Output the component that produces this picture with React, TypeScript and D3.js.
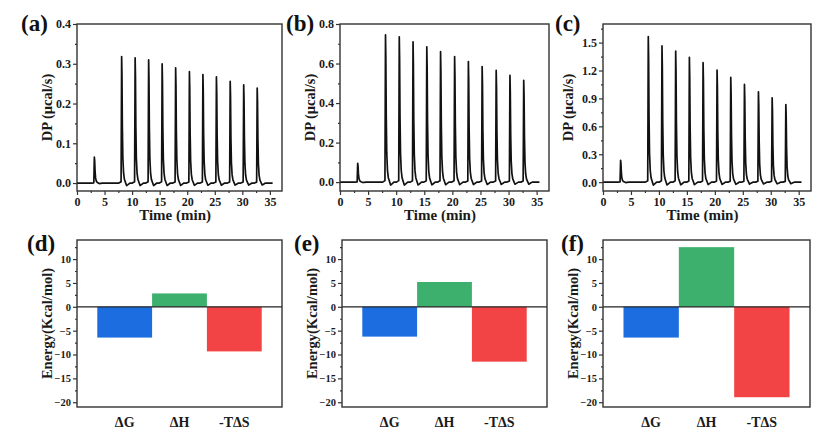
import React, { useEffect, useRef } from "react";
import * as d3 from "d3";

// injection peak times (min), shared by the three ITC traces
const injectionTimes = [3.15, 8.1, 10.55, 13.0, 15.45, 17.9, 20.4, 22.85, 25.3, 27.8, 30.25, 32.7];
const peaksA = [0.065, 0.318, 0.315, 0.31, 0.3, 0.29, 0.28, 0.273, 0.267, 0.256, 0.247, 0.239];
const peaksB = [0.095, 0.745, 0.735, 0.71, 0.685, 0.66, 0.635, 0.61, 0.585, 0.565, 0.54, 0.515];
const peaksC = [0.234, 1.565, 1.464, 1.41, 1.342, 1.284, 1.205, 1.126, 1.05, 0.971, 0.906, 0.835];
// shape of one injection spike: [minutes from peak, fraction of peak height]
const peakProfile: [number, number][] = [
  [-0.5, 0], [-0.1, 0.01], [-0.04, 0.6], [0, 1], [0.06, 0.85], [0.13, 0.45],
  [0.22, 0.2], [0.35, 0.08], [0.5, 0.03], [0.7, 0.005], [0.9, -0.02],
  [1.15, -0.012], [1.5, 0],
];
const traceEnd = 35.5;

const categories = ["ΔG", "ΔH", "-TΔS"];
const energyD = [-6.45, 2.8, -9.35];
const energyE = [-6.25, 5.2, -11.5];
const energyF = [-6.45, 12.5, -18.95];
const barColors = ["#1c6ee0", "#3cb06c", "#f24444"];

const energyTicks = [-20, -15, -10, -5, 0, 5, 10];

const FONT = "'Liberation Serif', 'Times New Roman', serif";
const INK = "#1a1a1a";

const App = () => {
  const svgRef = useRef<SVGSVGElement>(null);
  const svgWidth = 832;
  const svgHeight = 434;

  useEffect(() => {
    const svg = d3.select(svgRef.current);
    svg.selectAll("*").remove();

    const TOP = { y0: 24, y1: 191 };
    const BOT = { y0: 240, y1: 407 };

    const topPanels = [
      { label: "(a)", lx: 21, left: 77, right: 282, peaks: peaksA, dom: [-0.02, 0.4], step: 0.1, titleX: 47 },
      { label: "(b)", lx: 286, left: 340, right: 549, peaks: peaksB, dom: [-0.045, 0.8], step: 0.2, titleX: 310 },
      { label: "(c)", lx: 555, left: 603, right: 811, peaks: peaksC, dom: [-0.095, 1.7], step: 0.3, titleX: 568 },
    ];

    topPanels.forEach((p) => {
      const g = svg.append("g");
      const x = d3.scaleLinear().domain([0, 37.2]).range([p.left, p.right]);
      const y = d3.scaleLinear().domain(p.dom).range([TOP.y1, TOP.y0]);

      // trace
      const pts: [number, number][] = [[0, 0]];
      injectionTimes.forEach((t, i) => {
        peakProfile.forEach(([dt, f]) => pts.push([t + dt, f * p.peaks[i]]));
      });
      pts.push([traceEnd, 0]);
      g.append("path")
        .attr("d", d3.line().x((d) => x(d[0])).y((d) => y(d[1]))(pts))
        .attr("fill", "none")
        .attr("stroke", "#111")
        .attr("stroke-width", 1.7)
        .attr("stroke-linejoin", "round");

      // frame
      g.append("rect")
        .attr("x", p.left).attr("y", TOP.y0)
        .attr("width", p.right - p.left).attr("height", TOP.y1 - TOP.y0)
        .attr("fill", "none").attr("stroke", "#333").attr("stroke-width", 1.4);

      const yMajor = d3.range(0, p.dom[1] + 1e-9, p.step);
      const yMinor = d3.range(p.step / 2, p.dom[1], p.step);
      const xMajor = d3.range(0, 36, 5);
      const xMinor = d3.range(2.5, 37, 5);

      const yAxis = g.append("g")
        .attr("transform", `translate(${p.left},0)`)
        .call(d3.axisLeft(y).tickValues(yMajor).tickFormat(d3.format(".1f")).tickSize(4).tickPadding(2));
      yAxis.append("g").call(d3.axisLeft(y).tickValues(yMinor).tickFormat(() => "").tickSize(2));
      const xAxis = g.append("g")
        .attr("transform", `translate(0,${TOP.y1})`)
        .call(d3.axisBottom(x).tickValues(xMajor).tickFormat(d3.format("d")).tickSize(4).tickPadding(2));
      xAxis.append("g").call(d3.axisBottom(x).tickValues(xMinor).tickFormat(() => "").tickSize(2));
      [yAxis, xAxis].forEach((a) => {
        a.selectAll(".domain").remove();
        a.selectAll("line").attr("stroke", "#333").attr("stroke-width", 1.2);
        a.selectAll("text")
          .attr("font-family", FONT).attr("font-weight", "bold")
          .attr("font-size", 12).attr("fill", INK);
      });

      g.append("text")
        .attr("x", x(17.8)).attr("y", 220)
        .attr("text-anchor", "middle")
        .attr("font-family", FONT).attr("font-weight", "bold")
        .attr("font-size", 15).attr("fill", INK)
        .text("Time (min)");
      g.append("text")
        .attr("transform", `translate(${p.titleX},${(TOP.y0 + TOP.y1) / 2}) rotate(-90)`)
        .attr("text-anchor", "middle").attr("dy", "0.35em")
        .attr("font-family", FONT).attr("font-weight", "bold")
        .attr("font-size", 14.5).attr("fill", INK)
        .text("DP (μcal/s)");
      g.append("text")
        .attr("x", p.lx).attr("y", 31)
        .attr("font-family", FONT).attr("font-weight", "bold")
        .attr("font-size", 23).attr("fill", "#111")
        .text(p.label);
    });

    const botPanels = [
      { label: "(d)", lx: 27, left: 77, right: 282, values: energyD, titleX: 47 },
      { label: "(e)", lx: 294, left: 342, right: 547, values: energyE, titleX: 312 },
      { label: "(f)", lx: 561, left: 603, right: 810, values: energyF, titleX: 573 },
    ];

    botPanels.forEach((p) => {
      const g = svg.append("g");
      const x = d3.scaleBand().domain(categories).range([p.left, p.right]).paddingInner(0).paddingOuter(0.37);
      const y = d3.scaleLinear().domain([-21, 14]).range([BOT.y1, BOT.y0]);

      g.selectAll("rect.bar")
        .data(p.values)
        .enter()
        .append("rect")
        .attr("class", "bar")
        .attr("x", (_, i) => x(categories[i])!)
        .attr("width", x.bandwidth())
        .attr("y", (d) => y(Math.max(0, d)))
        .attr("height", (d) => Math.abs(y(d) - y(0)))
        .attr("fill", (_, i) => barColors[i]);

      g.append("line")
        .attr("x1", p.left).attr("x2", p.right)
        .attr("y1", y(0)).attr("y2", y(0))
        .attr("stroke", "#222").attr("stroke-width", 1.2);

      g.append("rect")
        .attr("x", p.left).attr("y", BOT.y0)
        .attr("width", p.right - p.left).attr("height", BOT.y1 - BOT.y0)
        .attr("fill", "none").attr("stroke", "#333").attr("stroke-width", 1.4);

      const yAxis = g.append("g")
        .attr("transform", `translate(${p.left},0)`)
        .call(d3.axisLeft(y).tickValues(energyTicks).tickFormat(d3.format("d")).tickSize(4).tickPadding(2));
      yAxis.append("g").call(
        d3.axisLeft(y).tickValues(d3.range(-17.5, 13, 5)).tickFormat(() => "").tickSize(2)
      );
      yAxis.selectAll(".domain").remove();
      yAxis.selectAll("line").attr("stroke", "#333").attr("stroke-width", 1.2);
      yAxis.selectAll("text")
        .attr("font-family", FONT).attr("font-weight", "bold")
        .attr("font-size", 10.5).attr("fill", INK);

      const xAxis = g.append("g")
        .attr("transform", `translate(0,${BOT.y1})`)
        .call(d3.axisBottom(x).tickSize(0).tickPadding(10));
      xAxis.selectAll(".domain").remove();
      xAxis.selectAll("text")
        .attr("font-family", FONT).attr("font-weight", "bold")
        .attr("font-size", 14).attr("fill", INK);

      g.append("text")
        .attr("transform", `translate(${p.titleX},${(BOT.y0 + BOT.y1) / 2}) rotate(-90)`)
        .attr("text-anchor", "middle").attr("dy", "0.35em")
        .attr("font-family", FONT).attr("font-weight", "bold")
        .attr("font-size", 14.5).attr("fill", INK)
        .text("Energy(Kcal/mol)");
      g.append("text")
        .attr("x", p.lx).attr("y", 251)
        .attr("font-family", FONT).attr("font-weight", "bold")
        .attr("font-size", 23).attr("fill", "#111")
        .text(p.label);
    });
  }, []);

  return (
    <svg
      ref={svgRef}
      width={svgWidth}
      height={svgHeight}
      style={{ position: "absolute", left: 0, top: 0, background: "#fff" }}
    />
  );
};

export default App;
